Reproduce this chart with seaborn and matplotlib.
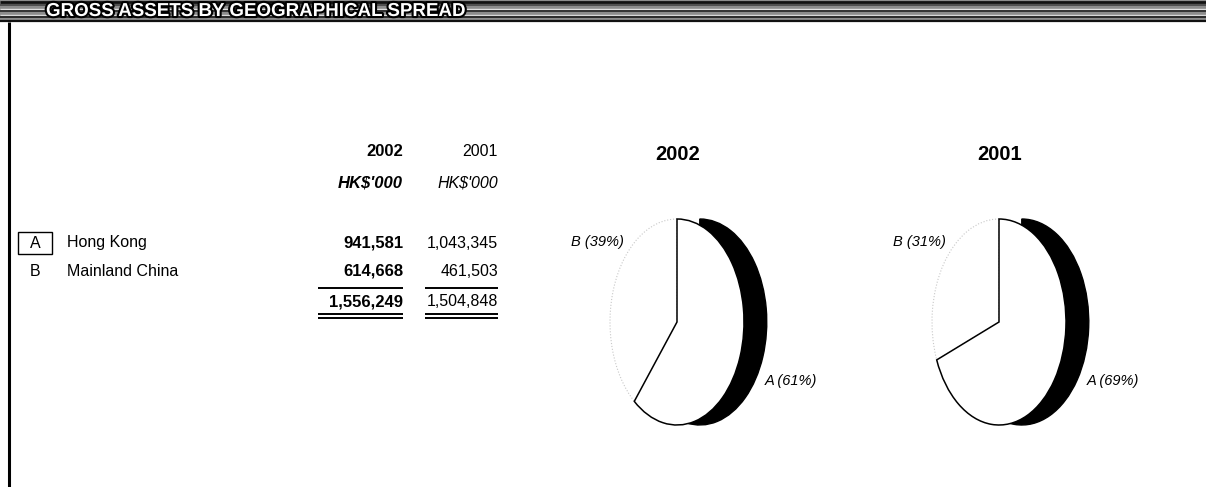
import numpy as np
import matplotlib
matplotlib.use("Agg")
import matplotlib.pyplot as plt
import matplotlib.patheffects as pe
from matplotlib.patches import Rectangle
import seaborn as sns

sns.set_theme(style="white")
plt.rcParams["font.family"] = ["Liberation Sans", "DejaVu Sans"]
plt.rcParams["text.color"] = "black"

# ---- data -------------------------------------------------------------
title = "GROSS ASSETS BY GEOGRAPHICAL SPREAD"
years = ["2002", "2001"]
unit = "HK$'000"
region_codes = ["A", "B"]
region_names = ["Hong Kong", "Mainland China"]
assets_2002 = [941581, 614668]
assets_2001 = [1043345, 461503]
share_2002 = [61, 39]
share_2001 = [69, 31]

W, H = 1206, 487
fig = plt.figure(figsize=(W / 100, H / 100), dpi=100)
fig.patch.set_facecolor("white")

# full-page layer in pixel coordinates
bg = fig.add_axes([0, 0, 1, 1])
bg.set_xlim(0, W)
bg.set_ylim(H, 0)
bg.axis("off")

# ---- heading band ------------------------------------------------------
bg.add_patch(Rectangle((0, 0), W, 22, facecolor="#8c8c8c", edgecolor="none", zorder=1))
for yy, c, lw in [(1.5, "#111111", 2.0), (5, "#444444", 1.2), (8.5, "#e0e0e0", 1.0),
                  (11, "#333333", 1.4), (14.5, "#d8d8d8", 1.0), (17, "#2a2a2a", 1.4),
                  (20.5, "#111111", 1.6)]:
    bg.hlines(yy, 0, W, colors=c, lw=lw, zorder=2)
bg.text(46, 11.5, title, fontsize=13.5, fontweight="bold", color="white",
        ha="left", va="center", zorder=3,
        path_effects=[pe.withStroke(linewidth=3, foreground="black")])

# left frame rule
bg.vlines(9, 22, H, colors="black", lw=2.2, zorder=2)

# ---- table -------------------------------------------------------------
col_right = [403, 498]
col_weight = ["bold", "normal"]
col_size = [12, 11.5]
for yr, x, w, fs in zip(years, col_right, col_weight, col_size):
    bg.text(x, 152, yr, fontsize=fs, fontweight=w, ha="right", va="center")
    bg.text(x, 183, unit, fontsize=fs, fontweight=w, style="italic", ha="right", va="center")

row_y = [243, 271]
for code, name, v02, v01, y in zip(region_codes, region_names, assets_2002, assets_2001, row_y):
    bg.text(35, y, code, fontsize=11.5, ha="center", va="center")
    bg.text(67, y, name, fontsize=11.5, ha="left", va="center")
    bg.text(col_right[0], y, f"{v02:,}", fontsize=col_size[0], fontweight="bold",
            ha="right", va="center")
    bg.text(col_right[1], y, f"{v01:,}", fontsize=col_size[1], ha="right", va="center")
bg.add_patch(Rectangle((18, 232), 34, 22, facecolor="none", edgecolor="black", lw=1.0))

totals = [sum(assets_2002), sum(assets_2001)]
col_left = [318, 425]
for tot, xl, xr, w, fs in zip(totals, col_left, col_right, col_weight, col_size):
    bg.text(xr, 302, f"{tot:,}", fontsize=fs, fontweight=w, ha="right", va="center")
    bg.hlines(288, xl, xr, colors="black", lw=1.4)
    bg.hlines([314, 318], xl, xr, colors="black", lw=1.4)

# ---- tilted pies -------------------------------------------------------
rx, ry = 67, 103          # face half-width / half-height in pixels
depth = 0.34              # side thickness in data units


def tilted_pie(cx, cy, shares, year):
    w_px, h_px = 3.0 * rx, 2.4 * ry
    ax = fig.add_axes([(cx - w_px / 2) / W, (H - cy - h_px / 2) / H, w_px / W, h_px / H])
    frac_a = shares[0] / 100
    # dark side of slice A
    ax.pie([frac_a], normalize=False, startangle=90, counterclock=False,
           center=(depth, 0), colors=["black"],
           wedgeprops=dict(edgecolor="black", linewidth=1.0))
    # faint outline of slice B
    wb, _ = ax.pie([shares[0], shares[1]], startangle=90, counterclock=False,
                   colors=["white", "white"],
                   wedgeprops=dict(edgecolor="#c8c8c8", linewidth=0.8, linestyle=":"))
    wb[0].set_visible(False)
    # white face of slice A
    ax.pie([frac_a], normalize=False, startangle=90, counterclock=False,
           colors=["white"], wedgeprops=dict(edgecolor="black", linewidth=1.1))
    ax.set_aspect("auto")
    ax.set_xlim(-1.5, 1.5)
    ax.set_ylim(-1.2, 1.2)
    ax.axis("off")
    ax.text(-1.19, 0.78, f"B ({shares[1]}%)", fontsize=10.5, style="italic",
            ha="center", va="center")
    ax.text(1.31, -0.57, f"A ({shares[0]}%)", fontsize=10.5, style="italic",
            ha="left", va="center")
    bg.text(cx + 1, 155, year, fontsize=14.5, fontweight="bold", ha="center", va="center")


tilted_pie(677, 322, share_2002, years[0])
tilted_pie(999, 322, share_2001, years[1])

fig.savefig("out.png", dpi=100)
